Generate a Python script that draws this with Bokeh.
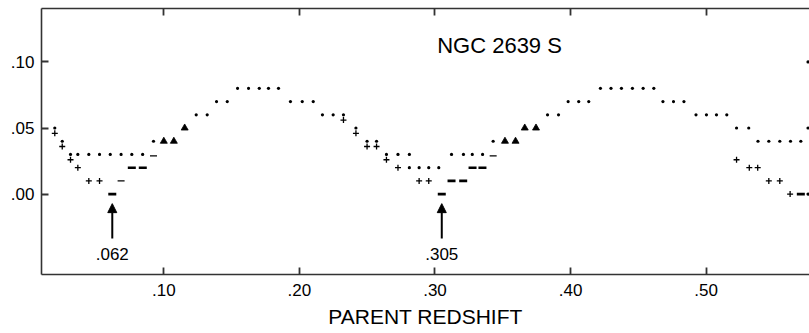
from bokeh.plotting import figure
from bokeh.models import (Range1d, FixedTicker, LinearAxis, Label, Arrow,
                          NormalHead, CustomJSTickFormatter)
from bokeh.embed import file_html
from bokeh.resources import INLINE

# ---- data -------------------------------------------------------------
# single dots
dot_x = [0.5751,
         0.1544, 0.1625, 0.1704, 0.1772, 0.1846, 0.4220, 0.4298, 0.4375, 0.4456, 0.4535, 0.4614,
         0.1389, 0.1468, 0.1934, 0.2021, 0.2102, 0.3982, 0.4060, 0.4134, 0.4681, 0.4759, 0.4836,
         0.1239, 0.1320, 0.2170, 0.2249, 0.2325, 0.3830, 0.3911, 0.4925, 0.5002, 0.5076, 0.5152,
         0.0196, 0.2417, 0.5224, 0.5314, 0.5751,
         0.0251, 0.0924, 0.2499, 0.2569, 0.3429, 0.5382, 0.5462, 0.5543, 0.5622, 0.5698,
         0.0312, 0.0366, 0.0447, 0.0526, 0.0605, 0.0685, 0.0764, 0.0844, 0.2642, 0.2727, 0.2811,
         0.3122, 0.3210, 0.3275, 0.3351,
         0.2811, 0.2883, 0.2954, 0.3028,
         0.5751]
dot_y = [0.10,
         0.08, 0.08, 0.08, 0.08, 0.08, 0.08, 0.08, 0.08, 0.08, 0.08, 0.08,
         0.07, 0.07, 0.07, 0.07, 0.07, 0.07, 0.07, 0.07, 0.07, 0.07, 0.07,
         0.06, 0.06, 0.06, 0.06, 0.06, 0.06, 0.06, 0.06, 0.06, 0.06, 0.06,
         0.05, 0.05, 0.05, 0.05, 0.05,
         0.04, 0.04, 0.04, 0.04, 0.04, 0.04, 0.04, 0.04, 0.04, 0.04,
         0.03, 0.03, 0.03, 0.03, 0.03, 0.03, 0.03, 0.03, 0.03, 0.03, 0.03,
         0.03, 0.03, 0.03, 0.03,
         0.02, 0.02, 0.02, 0.02,
         0.00]

# plus signs
plus_x = [0.0196, 0.0251, 0.0312, 0.2325, 0.2417, 0.2499, 0.2569, 0.2642,
          0.0366, 0.2727,
          0.0447, 0.0526, 0.2883, 0.2954,
          0.5224, 0.5318, 0.5380, 0.5462, 0.5543, 0.5619]
plus_y = [0.046, 0.036, 0.026, 0.056, 0.046, 0.036, 0.036, 0.026,
          0.02, 0.02,
          0.01, 0.01, 0.01, 0.01,
          0.026, 0.02, 0.02, 0.01, 0.01, 0.00]

# thin dashes
thin_x = [0.0924, 0.0685, 0.3429]
thin_y = [0.029, 0.010, 0.029]

# heavy dashes
bar_x = [0.062, 0.0764, 0.0845, 0.305, 0.3122, 0.3208, 0.3277, 0.3350, 0.5698]
bar_y = [0.00, 0.02, 0.02, 0.00, 0.01, 0.01, 0.02, 0.02, 0.00]

# triangles
tri_x = [0.1000, 0.1074, 0.1154, 0.3516, 0.3594, 0.3662, 0.3745]
tri_y = [0.04, 0.04, 0.05, 0.04, 0.04, 0.05, 0.05]

# marked minima
peak_x = [0.062, 0.305]
peak_labels = [".062", ".305"]

x_ticks = [0.10, 0.20, 0.30, 0.40, 0.50]
x_tick_labels = [".10", ".20", ".30", ".40", ".50"]
y_ticks = [0.00, 0.05, 0.10]
y_tick_labels = [".00", ".05", ".10"]

FONT = "Liberation Sans"
INK = "#000000"
AXIS = "#333333"


def tick_formatter(values, labels):
    return CustomJSTickFormatter(
        args=dict(tv=values, tl=labels),
        code="""
        const i = tv.findIndex(t => Math.abs(t - tick) < 1e-9);
        return i >= 0 ? tl[i] : '';
        """)


p = figure(width=809, height=333, output_backend="svg", toolbar_location=None,
           x_range=Range1d(0.0098, 0.5762), y_range=Range1d(-0.0608, 0.1404),
           min_border_left=41, min_border_right=0, min_border_top=8,
           min_border_bottom=59)
p.outline_line_color = None
p.grid.visible = False
p.background_fill_color = "white"
p.border_fill_color = "white"

# bottom axis
xa = p.xaxis[0]
xa.ticker = FixedTicker(ticks=x_ticks)
xa.formatter = tick_formatter(x_ticks, x_tick_labels)
xa.axis_label = "PARENT REDSHIFT"
xa.axis_label_text_font = FONT
xa.axis_label_text_font_style = "normal"
xa.axis_label_text_font_size = "21px"
xa.axis_label_text_color = INK
xa.axis_label_standoff = 6
xa.major_label_text_font = FONT
xa.major_label_text_font_size = "17px"
xa.major_label_text_color = INK
xa.major_label_standoff = 9

# left axis
ya = p.yaxis[0]
ya.ticker = FixedTicker(ticks=y_ticks)
ya.formatter = tick_formatter(y_ticks, y_tick_labels)
ya.major_label_text_font = FONT
ya.major_label_text_font_size = "17px"
ya.major_label_text_color = INK
ya.major_label_standoff = 7
ya.major_label_orientation = "horizontal"

# top axis: tick marks only, its labels are not painted
ta = LinearAxis(ticker=FixedTicker(ticks=x_ticks), major_label_text_font_size="1px",
                major_label_text_color=None, major_label_standoff=0)
p.add_layout(ta, "above")

for ax in (xa, ya, ta):
    ax.axis_line_color = AXIS
    ax.axis_line_width = 1.6
    ax.major_tick_line_color = AXIS
    ax.major_tick_line_width = 1.8
    ax.major_tick_in = 7
    ax.major_tick_out = 0
    ax.minor_tick_line_color = None

# point marks
p.scatter(dot_x, dot_y, marker="circle", size=3.2, fill_color=INK, line_color=None)
p.scatter(plus_x, plus_y, marker="cross", size=6, line_color=INK, line_width=1.3)
p.scatter(thin_x, thin_y, marker="dash", size=7, line_color=INK, line_width=1.2)
p.scatter(bar_x, bar_y, marker="dash", size=8, line_color=INK, line_width=2.6)
p.scatter(tri_x, tri_y, marker="triangle", size=7, fill_color=INK, line_color=INK,
          line_width=0.8)

# arrows pointing at the minima, with their redshift labels
for xv, lab in zip(peak_x, peak_labels):
    p.add_layout(Arrow(x_start=xv, y_start=-0.0335, x_end=xv, y_end=-0.0072,
                       line_color=INK, line_width=2,
                       end=NormalHead(size=9, fill_color=INK, line_color=INK)))
    p.add_layout(Label(x=xv, y=-0.045, text=lab, text_align="center",
                       text_baseline="middle", text_font=FONT,
                       text_font_size="17px", text_color=INK))

p.add_layout(Label(x=0.3016, y=0.1125, text="NGC 2639 S", text_align="left",
                   text_baseline="alphabetic", text_font=FONT,
                   text_font_size="22px", text_color=INK))

open("out.html", "w").write(file_html(p, INLINE))
